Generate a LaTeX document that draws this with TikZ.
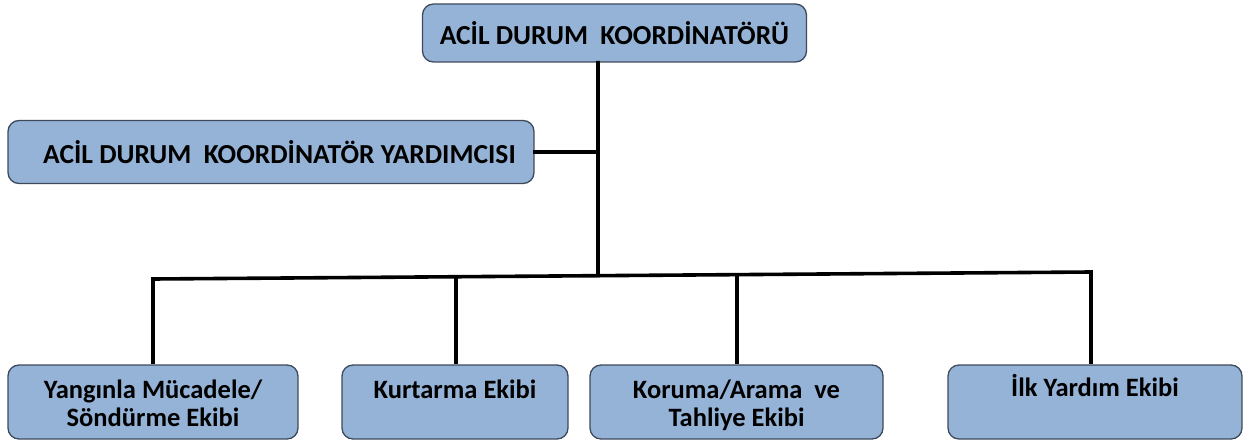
\documentclass[tikz,border=0pt]{standalone}
\usepackage{fontspec}
\setmainfont{Carlito}
\usetikzlibrary{calc}
\definecolor{boxfill}{HTML}{95B3D7}
\definecolor{boxdraw}{HTML}{3E4A5C}
\tikzset{
  orgbox/.style={draw=boxdraw, line width=1.3pt, fill=boxfill, rounded corners=11pt, inner sep=0pt},
  toptext/.style={font=\bfseries\fontsize{27.5}{30}\selectfont},
  teamlabel/.style={anchor=north, align=center, font=\bfseries\fontsize{26.5}{28}\selectfont, inner sep=0pt},
  conn/.style={line width=3.6pt, line cap=rect, draw=black}
}
\begin{document}
\begin{tikzpicture}[x=1pt,y=-1pt]
\useasboundingbox (0,0) rectangle (1252,444);
% boxes
\node[orgbox, minimum width=384pt, minimum height=58pt, toptext] (top) at (614.5,33) {AC\.IL DURUM\ \ KOORD\.INAT\"OR\"U};
\node[orgbox, minimum width=526pt, minimum height=63pt, toptext] (yard) at (271,152) {\hspace*{17pt}AC\.IL DURUM\ \ KOORD\.INAT\"OR YARDIMCISI};
\node[orgbox, minimum width=290pt, minimum height=74pt,
  label={[teamlabel, yshift=-15pt]north:Yangınla Mücadele/\\Söndürme Ekibi}] (b1) at (153,402) {};
\node[orgbox, minimum width=226pt, minimum height=74pt,
  label={[teamlabel, yshift=-15pt]north:Kurtarma Ekibi}] (b2) at (455,402) {};
\node[orgbox, minimum width=293pt, minimum height=74pt,
  label={[teamlabel, yshift=-15pt]north:Koruma/Arama\ \ ve\\Tahliye Ekibi}] (b3) at (736.5,402) {};
\node[orgbox, minimum width=294pt, minimum height=74pt,
  label={[teamlabel, yshift=-10pt]north:\.Ilk Yardım Ekibi}] (b4) at (1095,402) {};
% bus coordinates
\coordinate (busL) at (153,279);
\coordinate (busR) at (1091,272);
\coordinate (trunkTop) at ($(top.south)+(-16.5,0)$);
\coordinate (trunkBot) at ($(busL)!0.4744!(busR)$);
\coordinate (trunkMid) at (trunkTop |- yard.east);
% connectors
\draw[conn] (trunkTop) -- (trunkBot);
\draw[conn] (yard.east) -- (trunkMid);
\draw[conn, line cap=butt] (busL) -- (busR);
\draw[conn, line cap=butt] ($(busL)+(0,-1.8)$) -- (b1.north);
\draw[conn, line cap=butt] ($(busL)!0.323!(busR)$) -- (b2.north -| {$(busL)!0.323!(busR)$});
\draw[conn, line cap=butt] ($(busL)!0.6226!(busR)$) -- (b3.north -| {$(busL)!0.6226!(busR)$});
\draw[conn, line cap=butt] ($(busR)+(0,-1.8)$) -- (b4.north -| busR);
\end{tikzpicture}
\end{document}
